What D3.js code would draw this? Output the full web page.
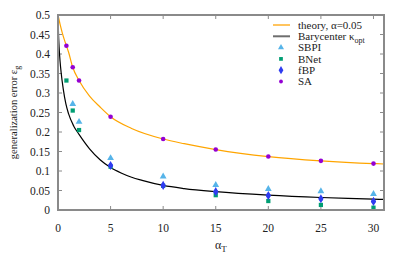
<!DOCTYPE html>
<html>
<head>
<meta charset="utf-8">
<script src="https://cdn.jsdelivr.net/npm/d3@7"></script>
<style>
  body { margin: 0; background: #fff; }
  svg text { font-family: "Liberation Serif", serif; fill: #222; }
</style>
</head>
<body>
<div id="chart"></div>
<script>
// curves
const theoryX = [0, 0.2, 0.4, 0.6, 0.8, 1, 1.4, 2, 3, 4, 5, 7, 10, 12, 15, 20, 25, 30, 31];
const theoryY = [0.5, 0.476, 0.455, 0.437, 0.421, 0.405, 0.366, 0.332, 0.292, 0.264, 0.239, 0.209, 0.182, 0.170, 0.155, 0.137, 0.126, 0.119, 0.118];
const baryX = [0, 0.05, 0.1, 0.2, 0.3, 0.5, 0.75, 1, 1.5, 2, 3, 4, 5, 6, 7, 8, 10, 12, 15, 20, 25, 30, 31];
const baryY = [0.5, 0.45, 0.42, 0.38, 0.352, 0.31, 0.272, 0.247, 0.215, 0.194, 0.157, 0.129, 0.109, 0.095, 0.084, 0.076, 0.063, 0.055, 0.047, 0.038, 0.032, 0.028, 0.027];

// points
const alphaSmall = [0.8, 1.4, 2];
const alphaBig = [5, 10, 15, 20, 25, 30];
const sbpiX = [1.4, 2, 5, 10, 15, 20, 25, 30];
const sbpiY = [0.272, 0.226, 0.133, 0.086, 0.064, 0.054, 0.048, 0.041];
const bnetX = [0.8, 1.4, 2, 5, 10, 15, 20, 25, 30];
const bnetY = [0.332, 0.255, 0.205, 0.111, 0.062, 0.038, 0.023, 0.013, 0.006];
const fbpX = alphaBig;
const fbpY = [0.114, 0.063, 0.047, 0.037, 0.029, 0.022];
const saX = alphaSmall.concat(alphaBig);
const saY = [0.421, 0.366, 0.332, 0.239, 0.182, 0.155, 0.137, 0.126, 0.119];

const xTicks = [0, 5, 10, 15, 20, 25, 30];
const yTicks = [0, 0.05, 0.1, 0.15, 0.2, 0.25, 0.3, 0.35, 0.4, 0.45, 0.5];

const W = 407, H = 271;
const margin = {top: 15, right: 23, bottom: 61, left: 58};
const svg = d3.select("#chart").append("svg")
    .attr("width", W).attr("height", H);

const x = d3.scaleLinear().domain([0, 31]).range([margin.left, W - margin.right]);
const y = d3.scaleLinear().domain([0, 0.5]).range([H - margin.bottom, margin.top]);
const frame = "#8a8a8a";

// ticks, mirrored on all four sides
const g = svg.append("g");
g.selectAll(".xt").data(xTicks).enter().append("path")
  .attr("d", d => `M${x(d)},${y(0)}v-4M${x(d)},${y(0.5)}v4`)
  .attr("stroke", frame).attr("stroke-width", 1);
g.selectAll(".yt").data(yTicks).enter().append("path")
  .attr("d", d => `M${x(0)},${y(d)}h4M${x(31)},${y(d)}h-4`)
  .attr("stroke", frame).attr("stroke-width", 1);

g.selectAll(".xl").data(xTicks).enter().append("text")
  .attr("x", d => x(d)).attr("y", y(0) + 22)
  .attr("text-anchor", "middle").style("font-size", "11.5px")
  .text(d => d);
g.selectAll(".yl").data(yTicks).enter().append("text")
  .attr("x", x(0) - 8).attr("y", d => y(d) + 4)
  .attr("text-anchor", "end").style("font-size", "11.5px")
  .text(d => d3.format("~g")(d));

// curves
const line = d3.line().x(d => x(d[0])).y(d => y(d[1])).curve(d3.curveMonotoneX);
svg.append("path").datum(d3.zip(theoryX, theoryY))
  .attr("d", line).attr("fill", "none").attr("stroke", "#ffa500").attr("stroke-width", 1.2);
svg.append("path").datum(d3.zip(baryX, baryY))
  .attr("d", line).attr("fill", "none").attr("stroke", "#000").attr("stroke-width", 1.2);

// markers
const tri = d3.symbol().type(d3.symbolTriangle).size(20);
const sq = d3.symbol().type(d3.symbolSquare).size(18);
const dia = d3.symbol().type(d3.symbolDiamond).size(24);
svg.selectAll(".sbpi").data(d3.zip(sbpiX, sbpiY)).enter().append("path")
  .attr("d", tri).attr("fill", "#56b4e9")
  .attr("transform", d => `translate(${x(d[0])},${y(d[1])})`);
svg.selectAll(".bnet").data(d3.zip(bnetX, bnetY)).enter().append("path")
  .attr("d", sq).attr("fill", "#009e73")
  .attr("transform", d => `translate(${x(d[0])},${y(d[1])})`);
svg.selectAll(".fbp").data(d3.zip(fbpX, fbpY)).enter().append("g")
  .attr("transform", d => `translate(${x(d[0])},${y(d[1])})`)
  .each(function() {
    d3.select(this).append("path").attr("d", dia).attr("fill", "#2f3cf0");
    d3.select(this).append("circle").attr("r", 2.2).attr("fill", "#2f3cf0");
  });
svg.selectAll(".sa").data(d3.zip(saX, saY)).enter().append("circle")
  .attr("cx", d => x(d[0])).attr("cy", d => y(d[1])).attr("r", 2.3)
  .attr("fill", "#9400d3");

// frame
svg.append("rect")
  .attr("x", x(0)).attr("y", y(0.5))
  .attr("width", x(31) - x(0)).attr("height", y(0) - y(0.5))
  .attr("fill", "none").attr("stroke", frame).attr("stroke-width", 2);

// axis labels
svg.append("text")
  .attr("transform", `translate(17,${(y(0) + y(0.5)) / 2}) rotate(-90)`)
  .attr("text-anchor", "middle").style("font-size", "10.5px")
  .html('generalization error ε<tspan dy="3" font-size="8px">g</tspan>');
svg.append("text")
  .attr("x", 215).attr("y", 249).style("font-size", "12px")
  .html('α<tspan dy="3" font-size="9px">T</tspan>');

// legend
const legend = [
  {name: "theory, α=0.05", kind: "line", color: "#ffb028"},
  {name: "Barycenter κ", sub: "opt", kind: "line", color: "#6e6e6e"},
  {name: "SBPI", kind: "tri", color: "#56b4e9"},
  {name: "BNet", kind: "sq", color: "#009e73"},
  {name: "fBP", kind: "dia", color: "#2f3cf0"},
  {name: "SA", kind: "dot", color: "#9400d3"}
];
const lg = svg.append("g");
legend.forEach((d, i) => {
  const cy = 25 + i * 11.3;
  if (d.kind === "line") {
    lg.append("line").attr("x1", 273).attr("x2", 290).attr("y1", cy).attr("y2", cy)
      .attr("stroke", d.color).attr("stroke-width", d.sub ? 2 : 1.5);
  } else if (d.kind === "tri") {
    lg.append("path").attr("d", d3.symbol().type(d3.symbolTriangle).size(16))
      .attr("transform", `translate(281,${cy})`).attr("fill", d.color);
  } else if (d.kind === "sq") {
    lg.append("path").attr("d", d3.symbol().type(d3.symbolSquare).size(14))
      .attr("transform", `translate(281,${cy})`).attr("fill", d.color);
  } else if (d.kind === "dia") {
    lg.append("path").attr("d", d3.symbol().type(d3.symbolDiamond).size(20))
      .attr("transform", `translate(281,${cy})`).attr("fill", d.color);
  } else {
    lg.append("circle").attr("cx", 281).attr("cy", cy).attr("r", 1.9).attr("fill", d.color);
  }
  const t = lg.append("text").attr("x", 298).attr("y", cy + 3.8).style("font-size", "11px");
  t.append("tspan").text(d.name);
  if (d.sub) t.append("tspan").attr("dy", 2.5).style("font-size", "8px").text(d.sub);
});
</script>
</body>
</html>
